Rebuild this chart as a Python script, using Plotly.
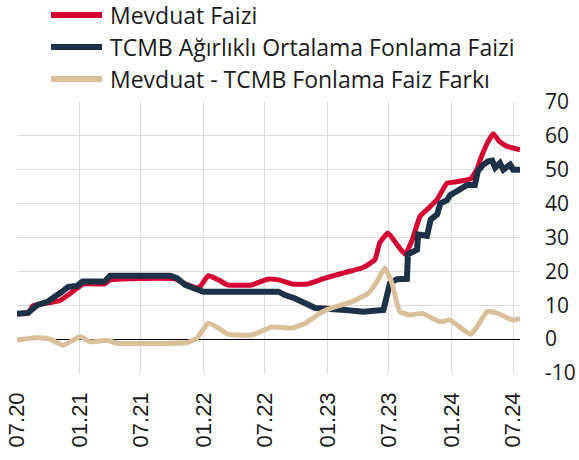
import plotly.graph_objects as go

# ---- data ----
series_names = ["Mevduat Faizi", "TCMB Ağırlıklı Ortalama Fonlama Faizi",
                "Mevduat - TCMB Fonlama Faiz Farkı"]

mevduat_dates = ["2020-07-01", "2020-08-03", "2020-08-16", "2020-10-06", "2020-11-05", "2020-12-25",
                 "2021-01-13", "2021-03-16", "2021-04-01", "2021-10-09", "2021-11-08", "2021-12-13",
                 "2021-12-22", "2022-01-15", "2022-02-14", "2022-03-13", "2022-05-23", "2022-07-09",
                 "2022-08-10", "2022-09-19", "2022-11-04", "2022-12-25", "2023-02-23", "2023-04-13",
                 "2023-05-01", "2023-05-21", "2023-06-04", "2023-06-28", "2023-07-25", "2023-08-18",
                 "2023-09-08", "2023-10-01", "2023-10-21", "2023-11-20", "2023-12-19", "2024-01-18",
                 "2024-02-26", "2024-03-16", "2024-03-25", "2024-04-15", "2024-05-03", "2024-05-23",
                 "2024-06-13", "2024-07-21"]
mevduat_vals = [7.5, 7.6, 9.8, 10.8, 11.4, 15.0,
                16.3, 16.3, 17.5, 17.8, 16.3, 15.2,
                15.5, 18.7, 17.5, 16.0, 16.0, 17.7,
                17.5, 16.3, 16.3, 18.0, 19.7, 21.0,
                22.0, 23.5, 28.4, 31.3, 27.9, 25.0,
                29.4, 36.3, 38.2, 41.2, 46.0, 46.5,
                47.3, 50.0, 52.7, 57.7, 60.6, 58.2,
                56.9, 55.9]

tcmb_dates = ["2020-07-01", "2020-08-03", "2020-08-29", "2020-09-28", "2020-11-05", "2020-11-29",
              "2020-12-25", "2021-01-10", "2021-03-16", "2021-04-01", "2021-09-25", "2021-10-15",
              "2021-11-08", "2021-12-13", "2022-01-01", "2022-08-10", "2022-08-29", "2022-09-28",
              "2022-10-28", "2022-11-26", "2023-02-23", "2023-04-16", "2023-06-15", "2023-07-04",
              "2023-07-25", "2023-08-23", "2023-08-26", "2023-09-22", "2023-09-25", "2023-10-21",
              "2023-11-01", "2023-11-20", "2023-11-29", "2023-12-19", "2023-12-28", "2024-01-27",
              "2024-02-17", "2024-03-10", "2024-03-19", "2024-04-04", "2024-04-18", "2024-04-30",
              "2024-05-09", "2024-05-23", "2024-06-02", "2024-06-22", "2024-07-01", "2024-07-21"]
tcmb_vals = [7.5, 7.8, 10.0, 11.0, 13.6, 15.4,
             15.7, 17.0, 17.0, 18.7, 18.7, 18.0,
             16.0, 15.0, 14.0, 14.0, 13.0, 12.0,
             10.7, 9.2, 8.6, 8.1, 8.6, 16.5,
             17.7, 17.8, 25.0, 26.4, 30.9, 30.5,
             35.3, 36.8, 40.0, 41.0, 42.5, 44.0,
             45.5, 45.5, 49.6, 51.5, 52.5, 52.7,
             50.6, 52.0, 50.0, 51.5, 50.0, 50.0]

fark_dates = ["2020-07-01", "2020-08-29", "2020-10-06", "2020-11-14", "2021-01-03", "2021-02-02",
              "2021-03-22", "2021-04-21", "2021-11-14", "2021-12-13", "2022-01-15", "2022-02-14",
              "2022-03-13", "2022-05-23", "2022-07-21", "2022-09-19", "2022-10-28", "2022-12-16",
              "2023-01-25", "2023-03-13", "2023-05-01", "2023-05-27", "2023-06-19", "2023-07-10",
              "2023-08-02", "2023-09-01", "2023-10-07", "2023-11-29", "2023-12-28", "2024-02-26",
              "2024-03-16", "2024-04-15", "2024-05-16", "2024-07-01", "2024-07-21"]
fark_vals = [-0.3, 0.5, 0.0, -1.8, 0.7, -0.8,
             -0.3, -1.2, -1.0, 0.3, 4.7, 3.3,
             1.5, 1.2, 3.6, 3.3, 4.7, 8.0,
             9.6, 11.0, 13.5, 17.0, 21.0, 16.5,
             8.1, 7.1, 7.6, 5.1, 5.6, 1.4,
             3.6, 8.1, 7.6, 5.6, 6.1]

tick_vals = ["2020-07-01", "2021-01-01", "2021-07-01", "2022-01-01", "2022-07-01",
             "2023-01-01", "2023-07-01", "2024-01-01", "2024-07-01"]
tick_text = ["07.20", "01.21", "07.21", "01.22", "07.22", "01.23", "07.23", "01.24", "07.24"]

y_tick_vals = [-10, 0, 10, 20, 30, 40, 50, 60, 70]
y_tick_text = ["-10", "0", "10", "20", "30", "40", "50", "60", "70"]

colors = ["#D50032", "#1D3147", "#D8C09B"]
widths = [5, 6, 5]
shapes = [dict(shape="spline", smoothing=0.4), dict(shape="linear"), dict(shape="spline", smoothing=0.4)]

fig = go.Figure()
for name, xs, ys, c, w, sh in zip(series_names,
                                  [mevduat_dates, tcmb_dates, fark_dates],
                                  [mevduat_vals, tcmb_vals, fark_vals], colors, widths, shapes):
    fig.add_trace(go.Scatter(x=xs, y=ys, mode="lines", name=name,
                             line=dict(color=c, width=w, **sh),
                             showlegend=False))

# manual legend (longer legend lines than Plotly's native legend allows)
plot_l, plot_r, plot_t, plot_b = 17, 520, 102, 373
W, H = 579, 460
def px_x(p):
    return (p - plot_l) / (plot_r - plot_l)
def px_y(p):
    return (plot_b - p) / (plot_b - plot_t)

row_y = [15, 47, 79]
for name, c, ry in zip(series_names, colors, row_y):
    fig.add_shape(type="line", xref="paper", yref="paper",
                  x0=px_x(51), x1=px_x(102), y0=px_y(ry), y1=px_y(ry),
                  line=dict(color=c, width=6), layer="above")
    fig.add_annotation(xref="paper", yref="paper", x=px_x(108), y=px_y(ry),
                       xanchor="left", yanchor="middle", showarrow=False,
                       text=name, font=dict(family="Open Sans", size=23, color="#1a1a1a"))

fig.update_layout(
    width=W, height=H,
    margin=dict(l=plot_l, r=W - plot_r, t=plot_t, b=H - plot_b, pad=0, autoexpand=False),
    paper_bgcolor="white", plot_bgcolor="white",
    font=dict(family="Open Sans", color="#1a1a1a"),
    xaxis=dict(type="date", range=["2020-07-01", "2024-07-21"], automargin=False,
               tickmode="array", tickvals=tick_vals, ticktext=tick_text,
               tickangle=-90, tickfont=dict(family="Liberation Sans", size=22, color="#1a1a1a"),
               showgrid=True, gridcolor="#dcdcdc", gridwidth=1,
               ticks="", ticklabelstandoff=14, showline=False, zeroline=False),
    yaxis=dict(side="right", range=[-10, 70], automargin=False,
               tickmode="array", tickvals=y_tick_vals, ticktext=y_tick_text,
               tickfont=dict(family="Open Sans", size=21, color="#1a1a1a"),
               showgrid=True, gridcolor="#dcdcdc", gridwidth=1,
               zeroline=True, zerolinecolor="#000000", zerolinewidth=1,
               ticks="", ticklabelstandoff=24, showline=False),
)

fig.write_html("out.html", config={"displayModeBar": False},
               post_script="document.body.style.margin='0px';")
